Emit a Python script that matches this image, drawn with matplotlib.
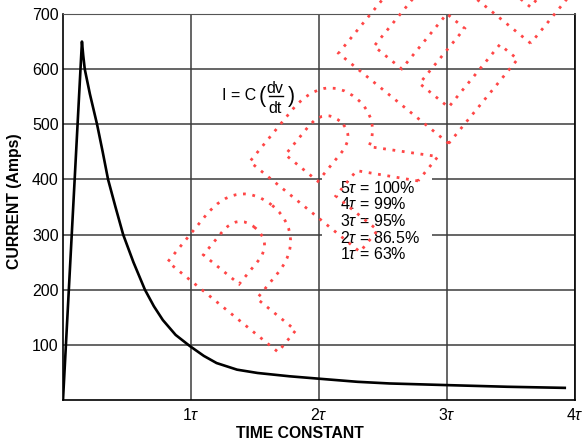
#!/usr/bin/env python3
"""
Capacitor charging current vs. time constant
out: out.png
"""
import matplotlib
matplotlib.use("Agg")
import matplotlib.pyplot as plt
from matplotlib.textpath import TextPath
from matplotlib.font_manager import FontProperties
from matplotlib.patches import PathPatch, Rectangle
from matplotlib.transforms import Affine2D, IdentityTransform

plt.rcParams["font.family"] = ["Liberation Sans", "DejaVu Sans"]
plt.rcParams["mathtext.fontset"] = "custom"
plt.rcParams["mathtext.rm"] = "Liberation Sans"
plt.rcParams["mathtext.it"] = "Liberation Sans:italic"

# curve (time in tau, current in A)
t_tau = [0, 0.148, 0.158, 0.17, 0.21, 0.266, 0.31, 0.352, 0.41, 0.47, 0.55, 0.64,
         0.71, 0.78, 0.88, 0.99, 1.1, 1.2, 1.36, 1.52, 1.77, 1.98, 2.3, 2.55,
         3.0, 3.47, 3.92]
current = [0, 650, 625, 600, 555, 500, 450, 400, 350, 300, 250, 200,
           170, 145, 118, 98, 80, 67, 55, 49, 43, 39, 33, 30,
           27, 24, 22]

x_ticks = [1, 2, 3, 4]
x_labels = ["1$\\mathit{\\tau}$", "2$\\mathit{\\tau}$", "3$\\mathit{\\tau}$", "4$\\mathit{\\tau}$"]
y_ticks = [100, 200, 300, 400, 500, 600, 700]

pct_lines = ["5$\\mathit{\\tau}$ = 100%", "4$\\mathit{\\tau}$ = 99%", "3$\\mathit{\\tau}$ = 95%",
             "2$\\mathit{\\tau}$ = 86.5%", "1$\\mathit{\\tau}$ = 63%"]
pct_y = [375, 345.5, 315.5, 285.5, 255.5]

fs = 11.5

fig = plt.figure(figsize=(5.86, 4.43), dpi=100)
ax = fig.add_axes([63/586, 43/443, 512/586, 386/443])

ax.plot(t_tau, current, color="black", lw=1.9, zorder=3)
ax.set_xlim(0, 4)
ax.set_ylim(0, 700)
ax.set_xticks(x_ticks)
ax.set_xticklabels(x_labels)
ax.set_yticks(y_ticks)
ax.tick_params(length=0, labelsize=fs)
ax.tick_params(axis="x", pad=5)
ax.tick_params(axis="y", pad=3)
ax.set_axisbelow(True)
ax.grid(True, color="#3c3c3c", lw=1.1)
for s in ["left", "bottom", "right"]:
  ax.spines[s].set_color("black"); ax.spines[s].set_linewidth(1.2)
ax.spines["top"].set_color("#555555")

# white box behind the percentage list
ax.add_patch(Rectangle((2.023, 250), 0.86, 156, facecolor="white", edgecolor="none", zorder=1))
for s, yy in zip(pct_lines, pct_y):
  ax.text(2.166, yy, s, fontsize=fs, va="baseline", ha="left", zorder=4)

# I = C(dv/dt)
ax.text(1.51, 544, "I = C", fontsize=fs, va="baseline", ha="right")
ax.text(1.56, 540, "(", fontsize=15.5, va="baseline", ha="center")
ax.text(1.655, 557, "dv", fontsize=fs, va="baseline", ha="center")
ax.plot([1.607, 1.716], [551, 551], color="black", lw=1.0)
ax.text(1.655, 521, "dt", fontsize=fs, va="baseline", ha="center")
ax.text(1.782, 540, ")", fontsize=15.5, va="baseline", ha="center")

fig.text(15/586, 1-201/443, "CURRENT (Amps)", rotation=90, fontsize=11.3,
         fontweight="bold", ha="center", va="center")
fig.text(300/586, 1-433/443, "TIME CONSTANT", fontsize=11.3,
         fontweight="bold", ha="center", va="center")

# dotted "PRELIMINARY" watermark
fp = FontProperties(family="Liberation Sans", weight="bold")
tp = TextPath((0, 0), "PRELIMINARY", size=200, prop=fp)
x0 = TextPath((0, 0), "P", size=200, prop=fp).get_extents().x0
tr = Affine2D().translate(-x0, 0).scale(0.97, 1.035).rotate_deg(50.7).translate(278, 443-352)
wm = PathPatch(tr.transform_path(tp), facecolor="none", edgecolor="#ff4646",
               lw=2.0, linestyle=(0, (1, 2.4)), transform=IdentityTransform(), zorder=5)
fig.add_artist(wm)

fig.savefig("out.png", dpi=100)
